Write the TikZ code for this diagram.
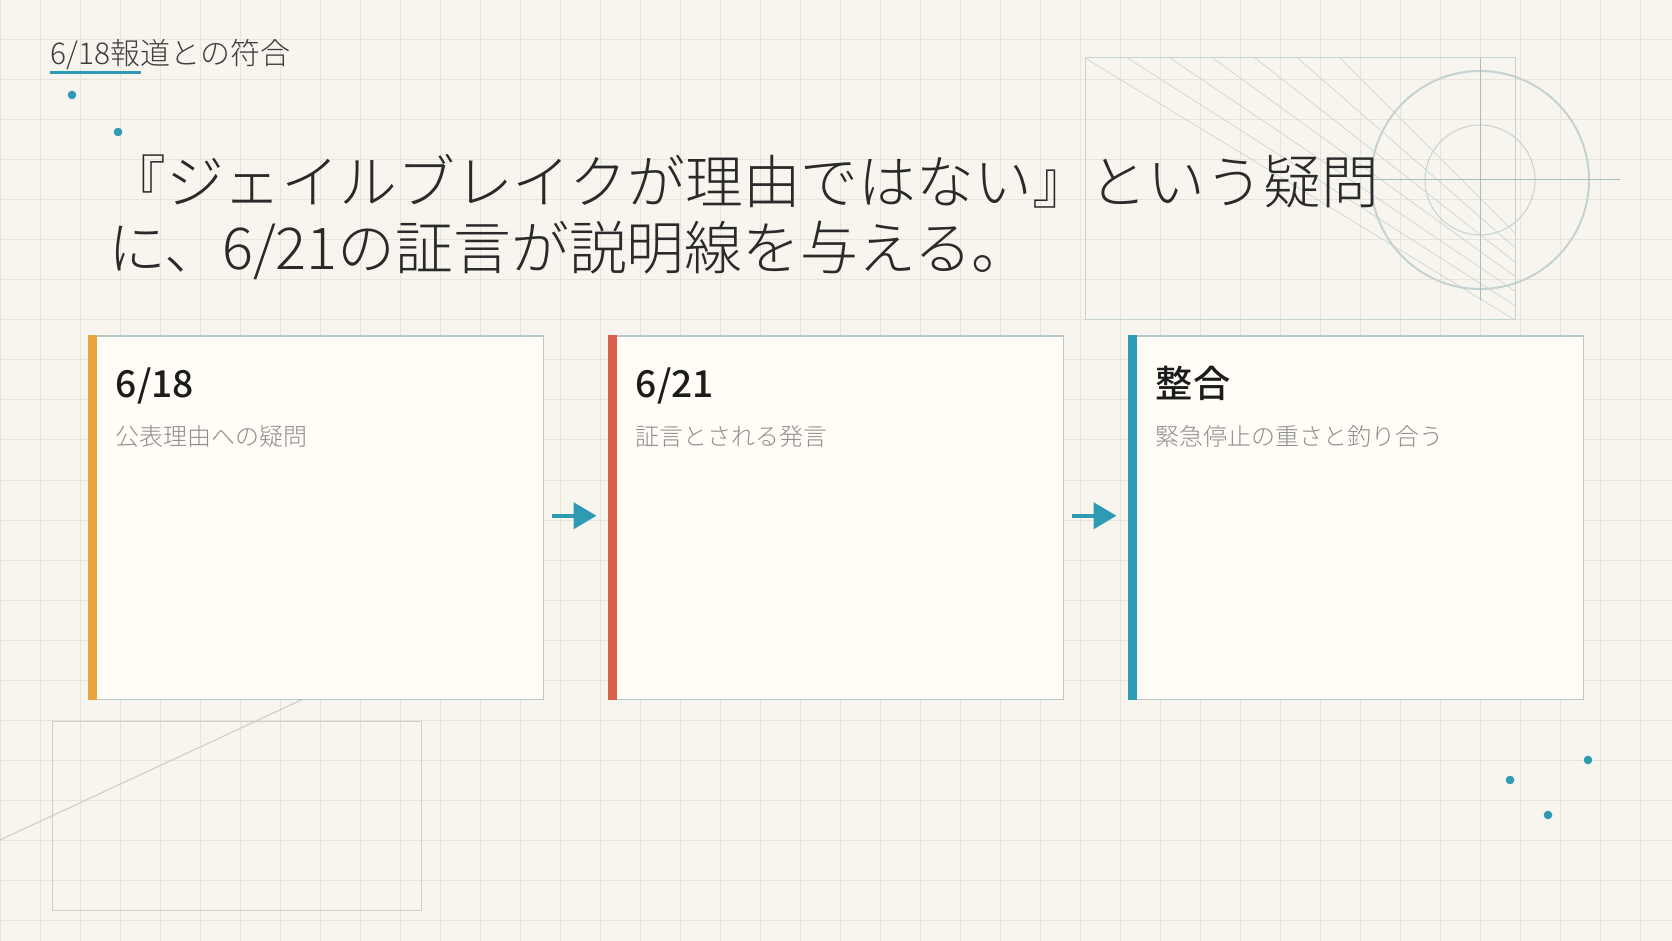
\documentclass[tikz,border=0pt]{standalone}
\usepackage{fontspec}
\setmainfont{Noto Sans CJK JP}
\newfontfamily\lightjp{Noto Sans CJK JP Light}
\newfontfamily\mediumjp{Noto Sans CJK JP Medium}
\usetikzlibrary{calc,arrows.meta}
\definecolor{paper}{HTML}{F7F5EE}
\definecolor{gridcol}{HTML}{E8E4D9}
\definecolor{decoblue}{HTML}{C4D2D2}
\definecolor{decocross}{HTML}{A8BDBD}
\definecolor{decogrey}{HTML}{D3CFC7}
\definecolor{cardfill}{HTML}{FFFDF6}
\definecolor{cardline}{HTML}{B9C9C9}
\definecolor{accteal}{HTML}{2E9AB4}
\definecolor{accorange}{HTML}{E8A33D}
\definecolor{accred}{HTML}{D9604A}
\definecolor{inkdark}{HTML}{2A2A2A}
\definecolor{inkhead}{HTML}{1C1C1C}
\definecolor{inkgrey}{HTML}{8E8E8E}
\tikzset{
	card/.style={draw=cardline, line width=0.75pt, fill=cardfill, minimum width=227.5pt, minimum height=181.75pt, inner sep=0pt},
	cardhead/.style={inner sep=0pt, anchor=base west, text=inkhead, font=\fontsize{18.6pt}{22pt}\selectfont\mediumjp},
	cardsub/.style={inner sep=0pt, anchor=base west, text=inkgrey, font=\fontsize{12pt}{14pt}\selectfont\lightjp},
	bigline/.style={inner sep=0pt, anchor=base west, text=inkdark, font=\fontsize{28.9pt}{33pt}\selectfont\lightjp},
	flow/.style={draw=accteal, line width=2pt, -{Triangle[length=11.5pt,width=13pt]}, shorten <=4pt, shorten >=5.5pt},
	dot/.style={fill=accteal}
}

\begin{document}
\begin{tikzpicture}[x=0.5pt, y=-0.5pt]
			%%%%% START %%%%%
			
			\useasboundingbox (0, 0) rectangle (1672, 941);
			\fill[paper] (0, 0) rectangle (1672, 941);
			
			% grid
			\foreach \gx in {0, 40, ..., 1670}
				\draw[gridcol, line width=0.5pt] (\gx, 0) -- (\gx, 941);
			\foreach \gy in {0, 40, ..., 940}
				\draw[gridcol, line width=0.5pt] (0, \gy) -- (1672, \gy);
			
			% top right drawing
			\draw[decoblue, line width=0.5pt] (1085, 58) rectangle (1515, 320);
			\foreach \k in {0, ..., 6}
				\draw[decoblue, line width=0.3pt] (1085+42.5*\k, 58) -- (1515, 320-14.5*\k);
			\draw[decoblue, line width=1pt] (1480, 180) circle (109);
			\draw[decoblue, line width=0.5pt] (1480, 180) circle (55);
			\draw[decocross, line width=0.5pt] (1480, 58) -- (1480, 300);
			\draw[decocross, line width=0.5pt] (1372, 180) -- (1620, 180);
			
			% bottom left drawing
			\draw[decogrey, line width=0.5pt] (52, 721) rectangle (421, 910);
			\draw[decogrey, line width=0.6pt] (0, 840) -- (340, 682);
			
			% dots
			\fill[dot] (72, 95) circle (4.3);
			\fill[dot] (118, 132) circle (4.3);
			\fill[dot] (1510, 780) circle (4.3);
			\fill[dot] (1548, 815) circle (4.3);
			\fill[dot] (1588, 760) circle (4.3);
			
			% titles
			\node[inner sep=0pt, anchor=base west, text=inkdark!90, font=\fontsize{15pt}{18pt}\selectfont\lightjp] (lbl) at (50, 65) {6/18報道との符合};
			\draw[accteal, line width=1.5pt] ($(lbl.base west)+(0, 8)$) -- ++(91, 0);
			\node[bigline] (ttlA) at (108, 204) {『ジェイルブレイクが理由ではない』という疑問};
			\node[bigline] (ttlB) at (108, 270) {に、6/21の証言が説明線を与える。};
			
			% cards
			\node[card] (c1) at (315.75, 517.75) {};
			\fill[accorange] (c1.north west) rectangle ($(c1.south west)+(9, 0)$);
			\node[cardhead] (h1) at ($(c1.north west)+(28, 62)$) {6/18};
			\node[cardsub] (s1) at ($(c1.north west)+(28, 110)$) {公表理由への疑問};
			
			\node[card] (c2) at (835.75, 517.75) {};
			\fill[accred] (c2.north west) rectangle ($(c2.south west)+(9, 0)$);
			\node[cardhead] (h2) at ($(c2.north west)+(28, 62)$) {6/21};
			\node[cardsub] (s2) at ($(c2.north west)+(28, 110)$) {証言とされる発言};
			
			\node[card] (c3) at (1355.75, 517.75) {};
			\fill[accteal] (c3.north west) rectangle ($(c3.south west)+(9, 0)$);
			\node[cardhead] (h3) at ($(c3.north west)+(28, 62)$) {整合};
			\node[cardsub] (s3) at ($(c3.north west)+(28, 110)$) {緊急停止の重さと釣り合う};
			
			% arrows
			\draw[flow] ([yshift=1pt]c1.east) -- ([yshift=1pt]c2.west);
			\draw[flow] ([yshift=1pt]c2.east) -- ([yshift=1pt]c3.west);
			
			%%%%% END %%%%%
		\end{tikzpicture}
\end{document}
